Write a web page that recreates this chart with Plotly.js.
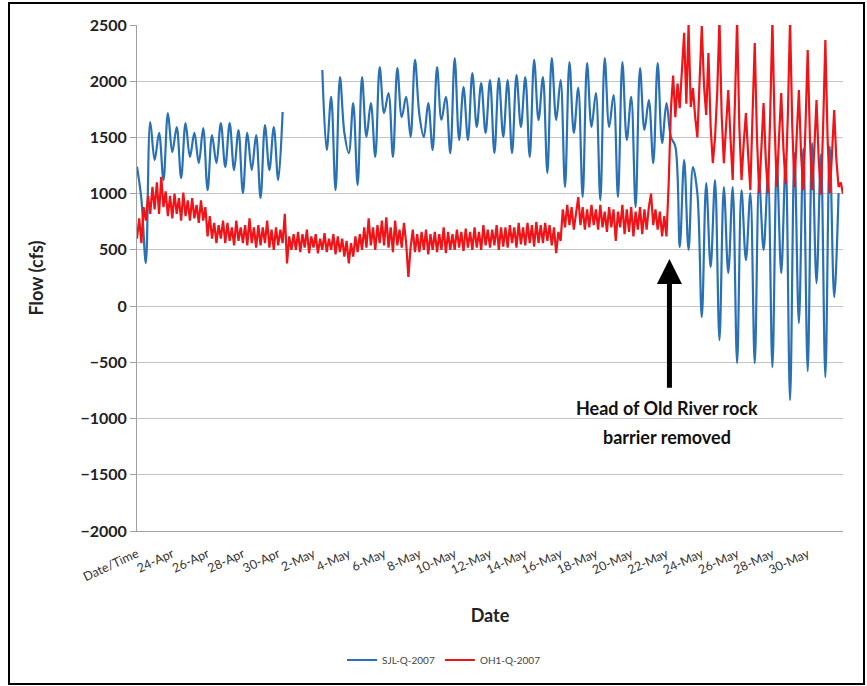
<!DOCTYPE html>
<html>
<head>
<meta charset="utf-8">
<script src="https://cdn.plot.ly/plotly-3.0.1.min.js"></script>
<style>
  html, body { margin: 0; padding: 0; background: #ffffff; }
  #chart { width: 867px; height: 686px; }
</style>
</head>
<body>
<div id="chart"></div>
<script>
// ---- data ----
const seriesNames = ["SJL-Q-2007", "OH1-Q-2007"];
const startDate = "2007-04-22 00:00";
const sjlStepHours = 6;   // SJL sampled every 6 h (peaks / troughs)
const oh1StepHours = 3;   // OH1 sampled every 3 h

// SJL-Q-2007 (cfs), null = no data
const sjlFlow = [
  1240, 950, 383, 1637, 1299, 1540, 1121, 1717, 1370, 1593, 1139, 1628, 1326, 1540, 1272, 1584,
  1032, 1521, 1272, 1628, 1237, 1628, 1210, 1566, 1005, 1540, 1210, 1521, 961, 1610, 1210, 1593,
  1121, 1726,
  null, null, null, null, null, null, null, null,
  2100, 1388, 1860, 1032, 2037, 1540, 1361, 1806, 1076, 2037, 1504, 1806, 1326, 2126, 1717, 1895,
  1326, 2117, 1681, 1860, 1504, 2189, 1700, 1504, 1806, 1388, 2126, 1655, 1860, 1361, 2206, 1477,
  1948, 1477, 2073, 1593, 1984, 1540, 2010, 1361,
  2028, 1504, 2010, 1361, 2055, 1593, 2037, 1326, 2189, 1655, 2037, 1183, 2206, 1655, 2010, 1059,
  2171, 1540, 1940, 970, 2162, 1593, 1895, 943, 2206, 1593, 1877, 970, 2171, 1477, 1860, 881,
  2117, 1566, 1833, 1272, 2162,
  1450, 1806, 1504, 1420, 525, 1300, 500, 1237, 1000,
  -98, 1094, 347, 1121, -302, 1059, 294, 1059, -507, 1032, 409, 1005, -507, 1121, 500, 1148,
  -543, 1272, 294, 1300, -836, 1361, -151, 1400, -578, 1450, 205, 1350, -632, 1420, 80, 1005
];

// OH1-Q-2007 (cfs), one row per day
const oh1Flow = [
  600, 780, 560, 880, 760, 980, 820, 1060,
  860, 1100, 820, 1150, 880, 1020, 800, 980,
  780, 1000, 820, 960, 760, 1010, 800, 940,
  760, 960, 780, 900, 740, 940, 760, 880,
  620, 800, 600, 740, 560, 720, 600, 760,
  560, 740, 580, 700, 540, 760, 580, 700,
  560, 720, 540, 780, 560, 700, 520, 720,
  540, 700, 560, 760, 520, 680, 500, 700,
  540, 680, 560, 820, 380, 620, 500, 640,
  500, 660, 480, 640, 520, 680, 470, 620,
  520, 640, 470, 600, 500, 650, 480, 600,
  500, 640, 460, 620, 480, 600, 440, 580,
  380, 560, 440, 620, 480, 640, 500, 700,
  520, 780, 540, 700, 500, 720, 560, 760,
  540, 790, 520, 700, 480, 760, 540, 680,
  520, 740, 560, 260, 520, 680, 480, 640,
  480, 660, 500, 680, 460, 640, 500, 660,
  480, 640, 500, 700, 470, 660, 500, 640,
  500, 680, 520, 660, 490, 690, 520, 660,
  500, 700, 520, 660, 500, 720, 540, 680,
  520, 680, 540, 720, 500, 700, 530, 700,
  520, 720, 560, 700, 520, 740, 550, 700,
  540, 740, 560, 720, 530, 750, 560, 720,
  560, 740, 580, 720, 540, 700, 470, 660,
  580, 860, 700, 900, 720, 880, 680, 840,
  970, 720, 880, 680, 860, 700, 900, 720,
  860, 680, 900, 700, 840, 660, 880, 700,
  860, 580, 840, 700, 900, 640, 860, 660,
  880, 620, 840, 680, 880, 640, 860, 680,
  880, 1000, 720, 860, 680, 840, 620, 800,
  620, 1100, 1750, 2050, 1680, 1980, 1760, 2100,
  2430, 1800, 2500, 1770, 1940, 1680, 1500, 2000,
  2490, 1960, 1700, 2250, 1600, 1272, 1500, 1900,
  2550, 1700, 1272, 1600, 1922, 1500, 1121, 1800,
  2550, 1600, 1121, 1450, 1717, 1350, 1032, 1700,
  2340, 1500, 1005, 1400, 1806, 1300, 1005, 1700,
  2550, 1600, 1059, 1500, 1895, 1400, 1086, 1700,
  2550, 1600, 1059, 1500, 1922, 1350, 1032, 1600,
  2278, 1500, 1032, 1400, 1833, 1300, 990, 1600,
  2367, 1500, 1005, 1350, 1744, 1300, 1059, 1100,
  1000
];

// x-axis tick positions and labels
const tickDates = [
  "2007-04-22", "2007-04-24", "2007-04-26", "2007-04-28", "2007-04-30",
  "2007-05-02", "2007-05-04", "2007-05-06", "2007-05-08", "2007-05-10",
  "2007-05-12", "2007-05-14", "2007-05-16", "2007-05-18", "2007-05-20",
  "2007-05-22", "2007-05-24", "2007-05-26", "2007-05-28", "2007-05-30"
];
const tickLabels = [
  "Date/Time", "24-Apr", "26-Apr", "28-Apr", "30-Apr",
  "2-May", "4-May", "6-May", "8-May", "10-May",
  "12-May", "14-May", "16-May", "18-May", "20-May",
  "22-May", "24-May", "26-May", "28-May", "30-May"
];
const yTicks = [2500, 2000, 1500, 1000, 500, 0, -500, -1000, -1500, -2000];

// ---- helpers ----
function sampleTimes(n, stepHours) {
  const t0 = new Date(startDate.replace(" ", "T") + ":00Z").getTime();
  const out = [];
  for (let i = 0; i < n; i++) {
    const d = new Date(t0 + i * stepHours * 3600 * 1000);
    const p = (v) => String(v).padStart(2, "0");
    out.push(d.getUTCFullYear() + "-" + p(d.getUTCMonth() + 1) + "-" + p(d.getUTCDate()) +
             " " + p(d.getUTCHours()) + ":" + p(d.getUTCMinutes()));
  }
  return out;
}

const FONT = "Lato, 'Open Sans', 'DejaVu Sans', sans-serif";

const traces = [
  {
    type: "scatter", mode: "lines", name: seriesNames[0],
    x: sampleTimes(sjlFlow.length, sjlStepHours), y: sjlFlow,
    line: { color: "#2a70b4", width: 2.2, shape: "spline", smoothing: 1 },
    connectgaps: false
  },
  {
    type: "scatter", mode: "lines", name: seriesNames[1],
    x: sampleTimes(oh1Flow.length, oh1StepHours), y: oh1Flow,
    line: { color: "#f01418", width: 2.2 }
  }
];

// plot area: px 137..843 horizontally, 25..531 vertically
const W = 867, H = 686, L = 137, R = 24, T = 25, B = 155;
const pw = W - L - R, ph = H - T - B;
const px = (v) => (v - L) / pw;
const py = (v) => (H - B - v) / ph;

const layout = {
  width: W, height: H,
  margin: { l: L, r: R, t: T, b: B },
  paper_bgcolor: "#ffffff", plot_bgcolor: "#ffffff",
  font: { family: FONT, color: "#222" },
  showlegend: true,
  legend: {
    orientation: "h", x: px(444), xanchor: "center", y: py(660), yanchor: "middle",
    font: { family: FONT, size: 10, color: "#444" }, bgcolor: "rgba(0,0,0,0)"
  },
  xaxis: {
    type: "date",
    range: ["2007-04-22 00:00", "2007-06-01 00:00"],
    tickmode: "array", tickvals: tickDates, ticktext: tickLabels,
    tickangle: -25,
    ticklabelstandoff: 10,
    tickfont: { family: FONT, size: 12.5, color: "#333" },
    showgrid: false, zeroline: false,
    showline: true, linecolor: "#a0a0a0", linewidth: 1,
    ticks: "",
    title: { text: "Date", font: { family: FONT, size: 18, weight: "bold", color: "#222" }, standoff: 26 }
  },
  yaxis: {
    range: [-2000, 2500],
    tickmode: "array", tickvals: yTicks,
    tickfont: { family: FONT, size: 16, weight: "bold", color: "#222" },
    showgrid: true, gridcolor: "#c4c4c4", gridwidth: 1,
    zeroline: false,
    showline: true, linecolor: "#a0a0a0", linewidth: 1,
    ticks: "outside", ticklen: 6, tickcolor: "#a0a0a0",
    title: { text: "Flow (cfs)", font: { family: FONT, size: 18, weight: "bold", color: "#222" }, standoff: 32 }
  },
  annotations: [
    {
      x: "2007-05-22 04:00", y: 420, xref: "x", yref: "y",
      ax: "2007-05-22 04:00", ay: -740, axref: "x", ayref: "y",
      text: "", showarrow: true, arrowhead: 2, arrowsize: 1, arrowwidth: 5, arrowcolor: "#000"
    },
    {
      x: "2007-05-22 00:00", y: -907, xref: "x", yref: "y", showarrow: false,
      text: "Head of Old River rock", font: { family: FONT, size: 18, weight: "bold", color: "#111" }
    },
    {
      x: "2007-05-22 00:00", y: -1166, xref: "x", yref: "y", showarrow: false,
      text: "barrier removed", font: { family: FONT, size: 18, weight: "bold", color: "#111" }
    }
  ],
  shapes: [
    {
      type: "rect", xref: "paper", yref: "paper",
      x0: px(9), x1: px(864), y0: py(684), y1: py(3),
      line: { color: "#000", width: 2 }, fillcolor: "rgba(0,0,0,0)", layer: "above"
    }
  ]
};

Plotly.newPlot("chart", traces, layout, { displayModeBar: false, staticPlot: true });
</script>
</body>
</html>
